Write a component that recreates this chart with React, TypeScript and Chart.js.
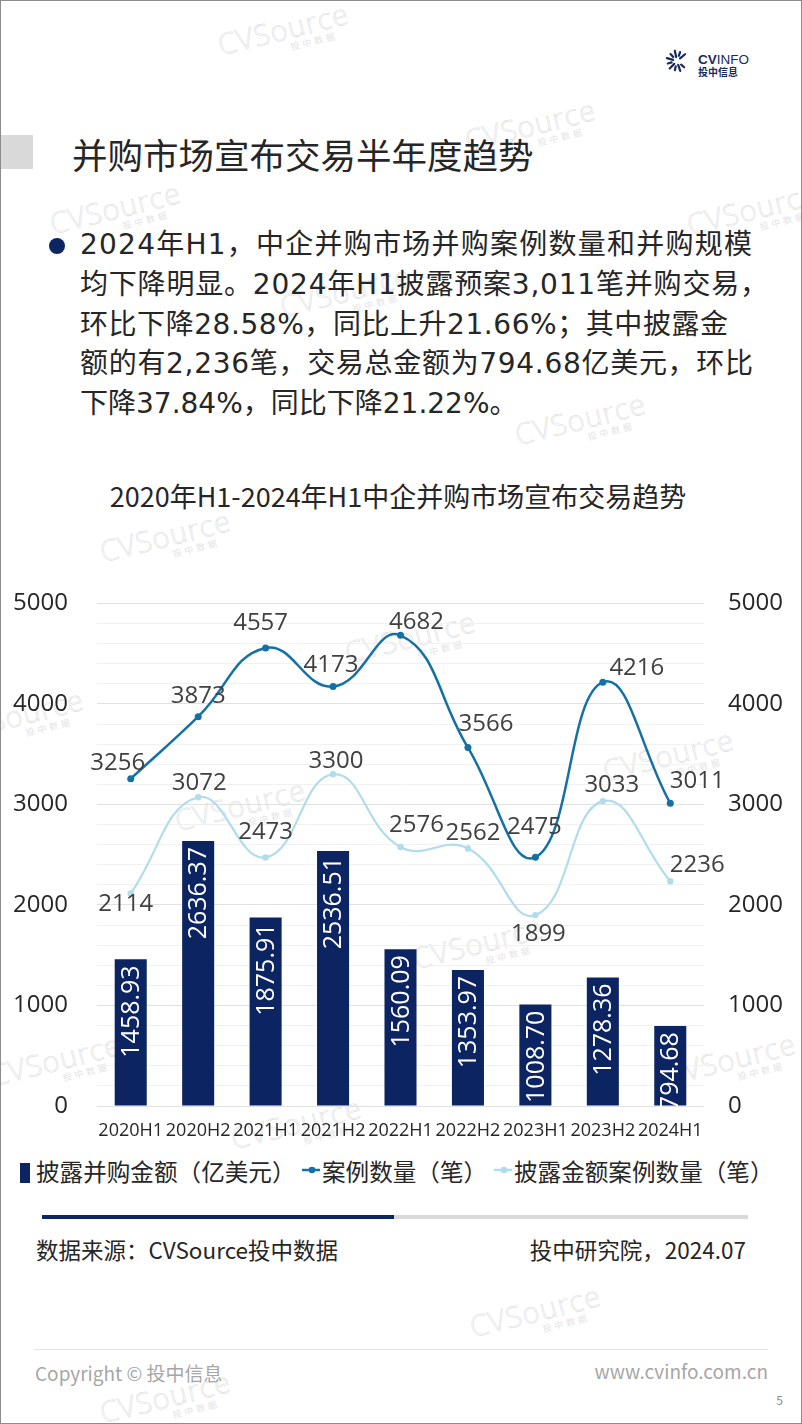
import React, { useEffect, useLayoutEffect, useRef } from 'react';
import Chart from 'chart.js/auto';

// ---------- data ----------
const categories = ['2020H1', '2020H2', '2021H1', '2021H2', '2022H1', '2022H2', '2023H1', '2023H2', '2024H1'];
const disclosedAmount = [1458.93, 2636.37, 1875.91, 2536.51, 1560.09, 1353.97, 1008.7, 1278.36, 794.68];
const dealCount = [3256, 3873, 4557, 4173, 4682, 3566, 2475, 4216, 3011];
const disclosedDealCount = [2114, 3072, 2473, 3300, 2576, 2562, 1899, 3033, 2236];
const axisMin = 0;
const axisMax = 5000;
const majorStep = 1000;
const minorStep = 200;

const seriesNames = ['披露并购金额（亿美元）', '案例数量（笔）', '披露金额案例数量（笔）'];

const paragraphLines = [
  '2024年H1，中企并购市场并购案例数量和并购规模',
  '均下降明显。2024年H1披露预案3,011笔并购交易，',
  '环比下降28.58%，同比上升21.66%；其中披露金',
  '额的有2,236笔，交易总金额为794.68亿美元，环比',
  '下降37.84%，同比下降21.22%。',
];
// right edge each paragraph line is justified to (0 = natural width)
const paragraphRightEdges = [752, 768, 728, 753, 0];

// label nudges (dx, dy) relative to each point, in px
const countLabelNudge = [[-13, -17], [0, -22], [-5, -27], [-2, -23], [16, -15], [18, -25], [-1, -32], [34, -16], [27, -24]];
const disclosedLabelNudge = [[-5, 9], [1, -16], [0, -27], [3, -15], [16, -24], [5, -17], [3, 17], [9, -18], [27, -18]];

const NAVY = '#0C2461';
const LINE1 = '#1570A6';
const LINE2 = '#B0DCEC';
const TEXT = '#262626';
const CJK = '"Noto Sans CJK SC", "Noto Sans", sans-serif';

const watermarkSpots = [
  [283, 36], [530, 132], [115, 215], [752, 216], [345, 298], [580, 426], [165, 543],
  [18, 722], [668, 762], [478, 950], [55, 1067], [730, 1066], [296, 1130], [535, 1318],
  [165, 1404], [410, 644], [240, 812],
];

const labelPlugin = {
  id: 'valueLabels',
  afterDatasetsDraw(chart: any) {
    const ctx = chart.ctx;
    chart.data.datasets.forEach((ds: any, i: number) => {
      const meta = chart.getDatasetMeta(i);
      meta.data.forEach((el: any, j: number) => {
        const v = ds.data[j];
        ctx.save();
        if (ds.type === 'bar') {
          ctx.translate(el.x, el.y + 6);
          ctx.rotate(-Math.PI / 2);
          ctx.font = '25px "Open Sans"';
          ctx.fillStyle = '#ffffff';
          ctx.textAlign = 'right';
          ctx.textBaseline = 'middle';
          ctx.fillText(v.toFixed(2), 0, 1);
        } else {
          const nudge = ds.labelNudge[j];
          ctx.font = '24px "Open Sans"';
          ctx.fillStyle = '#404040';
          ctx.textAlign = 'center';
          ctx.textBaseline = 'alphabetic';
          ctx.fillText(String(v), el.x + nudge[0], el.y + nudge[1] + 24 * 0.36);
        }
        ctx.restore();
      });
    });
  },
};

function ChartCanvas() {
  const ref = useRef<HTMLCanvasElement | null>(null);
  useEffect(() => {
    if (!ref.current) return;
    Chart.defaults.font.family = '"Open Sans", sans-serif';
    const chart = new Chart(ref.current, {
      type: 'bar',
      data: {
        labels: categories,
        datasets: [
          {
            type: 'line',
            label: seriesNames[1],
            data: dealCount,
            yAxisID: 'y2',
            borderColor: LINE1,
            backgroundColor: LINE1,
            borderWidth: 2.5,
            pointRadius: 3.5,
            pointBackgroundColor: LINE1,
            pointBorderWidth: 0,
            tension: 0.45,
            order: 1,
            labelNudge: countLabelNudge,
          } as any,
          {
            type: 'line',
            label: seriesNames[2],
            data: disclosedDealCount,
            yAxisID: 'y2',
            borderColor: LINE2,
            backgroundColor: LINE2,
            borderWidth: 2.2,
            pointRadius: 3.2,
            pointBackgroundColor: LINE2,
            pointBorderWidth: 0,
            tension: 0.45,
            order: 2,
            labelNudge: disclosedLabelNudge,
          } as any,
          {
            type: 'bar',
            label: seriesNames[0],
            data: disclosedAmount,
            yAxisID: 'y',
            backgroundColor: NAVY,
            categoryPercentage: 0.5,
            barPercentage: 0.95,
            order: 3,
          } as any,
        ],
      },
      options: {
        animation: false,
        responsive: false,
        devicePixelRatio: 1,
        layout: { padding: { top: 40, left: 0, right: 0, bottom: 0 } },
        plugins: { legend: { display: false }, tooltip: { enabled: false }, title: { display: false } },
        scales: {
          x: {
            grid: { display: false, drawTicks: false },
            border: { display: false },
            ticks: { font: { size: 18 }, color: TEXT, padding: 14, maxRotation: 0, minRotation: 0, autoSkip: false },
            afterFit: (s: any) => { s.height = 44; },
          },
          y: {
            position: 'left',
            min: axisMin,
            max: axisMax,
            grid: {
              drawTicks: false,
              lineWidth: 1,
              color: (c: any) => (c.tick && c.tick.value % majorStep === 0 ? '#e1e1e1' : '#f1f1f1'),
            },
            border: { display: false },
            ticks: {
              stepSize: minorStep,
              autoSkip: false,
              padding: 29,
              font: { size: 24 },
              color: TEXT,
              callback: (v: any) => (Number(v) % majorStep === 0 ? String(v) : ''),
            },
            afterFit: (s: any) => { s.width = 97; },
          },
          y2: {
            position: 'right',
            min: axisMin,
            max: axisMax,
            grid: { display: false, drawTicks: false },
            border: { display: false },
            ticks: {
              stepSize: majorStep,
              autoSkip: false,
              padding: 24,
              font: { size: 24 },
              color: TEXT,
              callback: (v: any) => String(v),
            },
            afterFit: (s: any) => { s.width = 98; },
          },
        },
      },
      plugins: [labelPlugin],
    } as any);
    return () => chart.destroy();
  }, []);
  return (
    <canvas
      ref={ref}
      width={802}
      height={590}
      style={{ position: 'absolute', left: 0, top: 560, width: 802, height: 590 }}
    />
  );
}

function Txt(props: { x: number; y: number; size: number; children: any; color?: string; align?: 'left' | 'right' | 'center'; family?: string; weight?: number | string }) {
  const { x, y, size, color = TEXT, align = 'left', family = CJK, weight = 400 } = props;
  const lh = size * 1.4;
  const style: any = {
    position: 'absolute',
    top: y - lh / 2 - size * 0.05,
    fontSize: size,
    lineHeight: `${lh}px`,
    color,
    fontFamily: family,
    fontWeight: weight,
    whiteSpace: 'nowrap',
  };
  if (align === 'left') style.left = x;
  else if (align === 'right') style.right = 802 - x;
  else { style.left = x - 400; style.width = 800; style.textAlign = 'center'; }
  return <div style={style}>{props.children}</div>;
}

function FitLine({ x, y, size, right, text }: { x: number; y: number; size: number; right: number; text: string }) {
  const ref = useRef<HTMLDivElement | null>(null);
  useLayoutEffect(() => {
    const el = ref.current;
    if (!el || !right) return;
    el.style.letterSpacing = '0px';
    const w = el.getBoundingClientRect().width;
    const n = Array.from(text).length;
    const ls = (right - x - w) / (n - 1);
    el.style.letterSpacing = `${ls}px`;
  }, [text, right, x]);
  const lh = size * 1.4;
  return (
    <div
      ref={ref}
      style={{
        position: 'absolute',
        left: x,
        top: y - lh / 2 - size * 0.05,
        fontSize: size,
        lineHeight: `${lh}px`,
        color: TEXT,
        fontFamily: '"DejaVu Sans", "Noto Sans CJK SC", sans-serif',
        whiteSpace: 'nowrap',
      }}
    >
      {text}
    </div>
  );
}

function Watermark({ x, y }: { x: number; y: number }) {
  return (
    <div
      style={{
        position: 'absolute',
        left: x - 65,
        top: y - 22,
        width: 130,
        height: 44,
        transform: 'rotate(-14deg)',
        pointerEvents: 'none',
      }}
    >
      <div
        style={{
          fontFamily: '"Open Sans", sans-serif',
          fontWeight: 300,
          fontSize: 29,
          lineHeight: '30px',
          color: 'transparent',
          WebkitTextStroke: '0.6px #e0e0e0',
          letterSpacing: 1,
        }}
      >
        CVSource
      </div>
      <div style={{ fontFamily: CJK, fontSize: 9, lineHeight: '10px', color: '#e4e4e4', marginLeft: 70, letterSpacing: 3 }}>投中数据</div>
    </div>
  );
}

function LogoIcon() {
  const cx = 677;
  const cy = 61;
  const strokes = [];
  for (let k = 0; k < 10; k++) {
    const a = (40 + k * 31) * (Math.PI / 180);
    const r1 = k % 2 === 0 ? 4 : 5.5;
    const r2 = k % 2 === 0 ? 10.5 : 9.5;
    strokes.push(
      <line
        key={k}
        x1={cx + r1 * Math.cos(a)}
        y1={cy - r1 * Math.sin(a)}
        x2={cx + r2 * Math.cos(a)}
        y2={cy - r2 * Math.sin(a)}
        stroke="#1B2A5C"
        strokeWidth={2.2}
        strokeLinecap="round"
      />
    );
  }
  return (
    <svg width={802} height={100} style={{ position: 'absolute', left: 0, top: 0 }}>
      {strokes}
    </svg>
  );
}

function LegendLine({ x, color }: { x: number; color: string }) {
  return (
    <svg width={24} height={12} style={{ position: 'absolute', left: x, top: 1164 }}>
      <line x1={2} y1={6} x2={20} y2={6} stroke={color} strokeWidth={2.5} />
      <circle cx={12} cy={6} r={3.3} fill={color} />
    </svg>
  );
}

export default function App() {
  return (
    <div
      style={{
        position: 'absolute',
        left: 0,
        top: 0,
        width: 802,
        height: 1424,
        background: '#ffffff',
        overflow: 'hidden',
        fontFamily: CJK,
      }}
    >
      {watermarkSpots.map((p, i) => (
        <Watermark key={i} x={p[0]} y={p[1]} />
      ))}

      <LogoIcon />
      <div style={{ position: 'absolute', left: 698, top: 52, fontFamily: '"Liberation Sans", sans-serif', fontSize: 13.5, lineHeight: '16px', color: '#1B2A5C' }}>
        <span style={{ fontWeight: 700 }}>CV</span>
        <span style={{ fontWeight: 400 }}>INFO</span>
      </div>
      <div style={{ position: 'absolute', left: 698, top: 65, fontFamily: CJK, fontSize: 10, lineHeight: '13px', fontWeight: 700, color: '#1B2A5C' }}>投中信息</div>

      <div style={{ position: 'absolute', left: 0, top: 135, width: 33, height: 34, background: '#d9d9d9' }} />
      <Txt x={72} y={156} size={35.5}>并购市场宣布交易半年度趋势</Txt>

      <div style={{ position: 'absolute', left: 48.5, top: 237.5, width: 16, height: 16, borderRadius: '50%', background: NAVY }} />
      {paragraphLines.map((t, i) => (
        <FitLine key={i} x={80} y={246 + i * 39.8} size={28} right={paragraphRightEdges[i]} text={t} />
      ))}

      <Txt x={398} y={497} size={27} align="center">2020年H1-2024年H1中企并购市场宣布交易趋势</Txt>

      <ChartCanvas />

      {/* legend */}
      <div style={{ position: 'absolute', left: 20, top: 1163, width: 10, height: 20, background: NAVY }} />
      <Txt x={36} y={1173} size={23.6}>{seriesNames[0]}</Txt>
      <LegendLine x={300} color={LINE1} />
      <Txt x={322} y={1173} size={23.6}>{seriesNames[1]}</Txt>
      <LegendLine x={492} color={LINE2} />
      <Txt x={514} y={1173} size={23.6}>{seriesNames[2]}</Txt>

      {/* progress bar */}
      <div style={{ position: 'absolute', left: 42, top: 1215, width: 352, height: 4, background: NAVY }} />
      <div style={{ position: 'absolute', left: 394, top: 1215, width: 354, height: 4, background: '#d9d9d9' }} />

      <Txt x={36} y={1251} size={22.5}>数据来源：CVSource投中数据</Txt>
      <Txt x={746} y={1251} size={22.5} align="right">投中研究院，2024.07</Txt>

      <div style={{ position: 'absolute', left: 34, top: 1349, width: 734, height: 1, background: '#e3e3e3' }} />
      <Txt x={35} y={1374} size={19} color="#a6a6a6">Copyright © 投中信息</Txt>
      <Txt x={768} y={1372} size={19} color="#a6a6a6" align="right">www.cvinfo.com.cn</Txt>
      <Txt x={783} y={1401} size={12} color="#8c8c8c" align="right">5</Txt>

      <div style={{ position: 'absolute', left: 0, top: 0, width: 802, height: 1424, boxSizing: 'border-box', border: '1px solid #8c8c8c', pointerEvents: 'none' }} />
    </div>
  );
}
